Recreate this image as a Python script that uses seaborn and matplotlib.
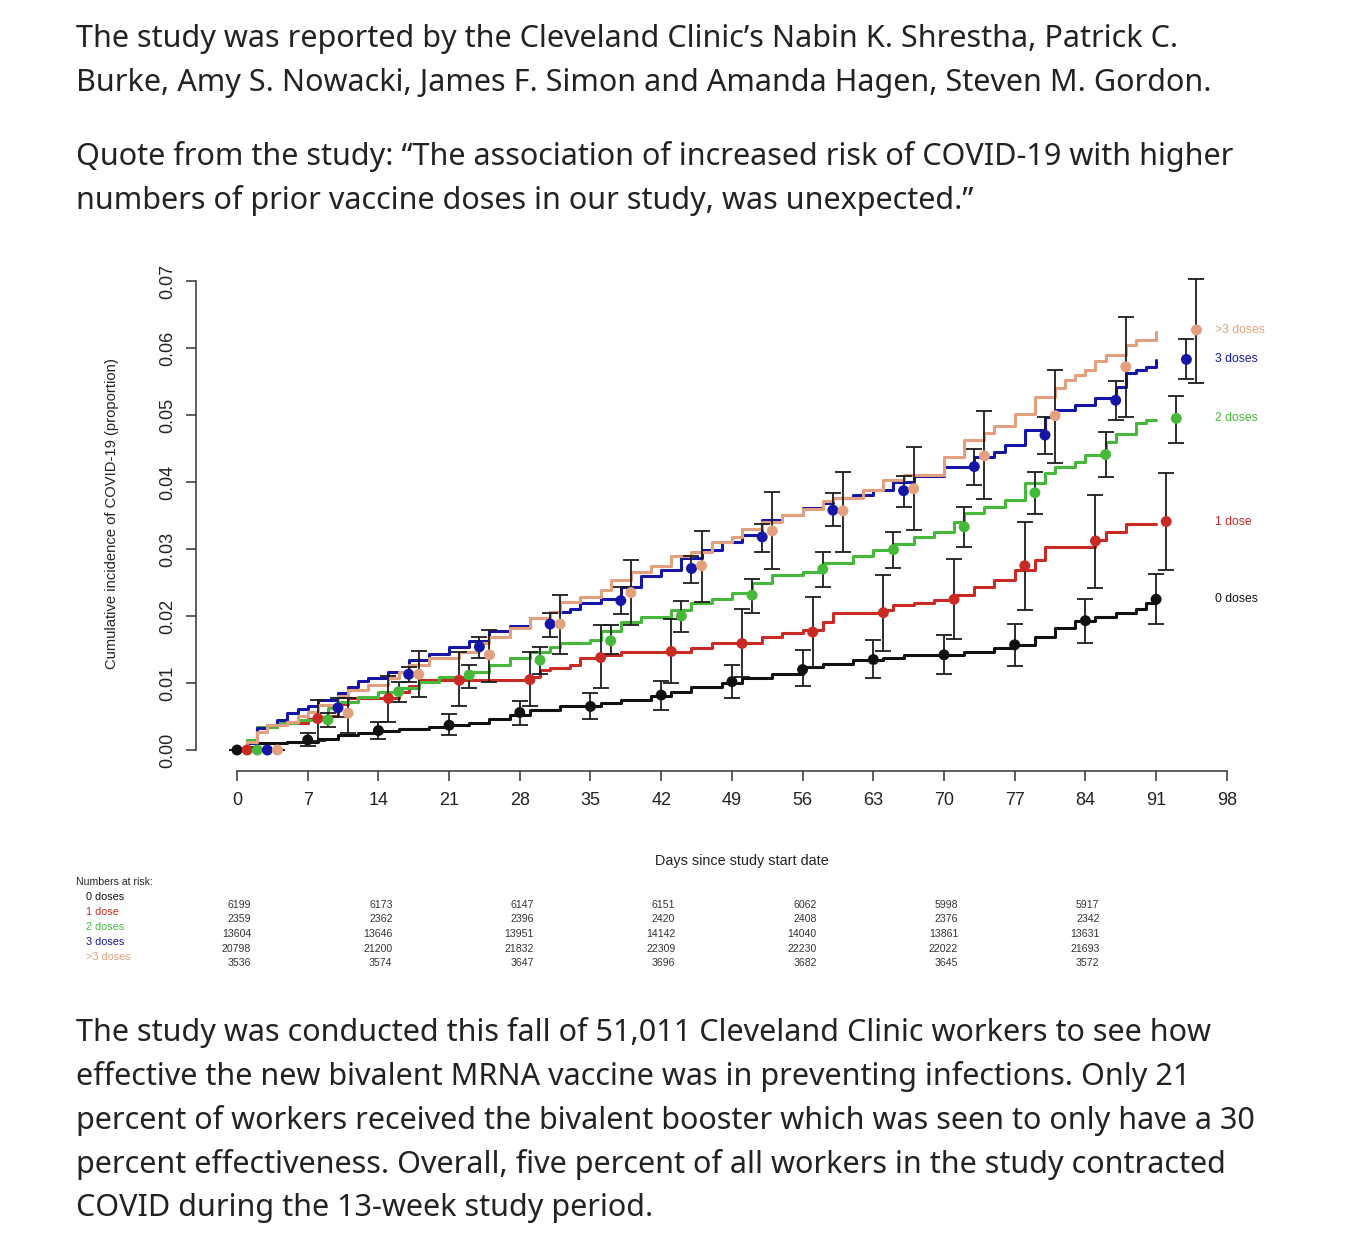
import numpy as np
import pandas as pd
import matplotlib.pyplot as plt
import seaborn as sns
from matplotlib.transforms import blended_transform_factory

# ---- article text around the figure
top_lines = [
    "The study was reported by the Cleveland Clinic\u2019s Nabin K. Shrestha, Patrick C.",
    "Burke, Amy S. Nowacki, James F. Simon and Amanda Hagen, Steven M. Gordon.",
    "Quote from the study: \u201cThe association of increased risk of COVID-19 with higher",
    "numbers of prior vaccine doses in our study, was unexpected.\u201d",
]
bottom_lines = [
    "The study was conducted this fall of 51,011 Cleveland Clinic workers to see how",
    "effective the new bivalent MRNA vaccine was in preventing infections. Only 21",
    "percent of workers received the bivalent booster which was seen to only have a 30",
    "percent effectiveness. Overall, five percent of all workers in the study contracted",
    "COVID during the 13-week study period.",
]

groups = ['0 doses', '1 dose', '2 doses', '3 doses', '>3 doses']
colors = ['#111111', '#c92a24', '#46b83a', '#1616a6', '#e2a07e']

# ---- cumulative incidence step curves (day, value)
days_0 = [0, 1, 2, 5, 8, 10, 12, 14, 16, 19, 21, 23, 25, 27, 29, 32, 36, 38, 41, 43, 45, 48, 50,
          53, 56, 58, 61, 64, 66, 72, 75, 77, 79, 81, 83, 85, 87, 89, 90, 91]
inc_0 = [0, 0.0005, 0.0010, 0.0012, 0.0017, 0.0022, 0.0026, 0.0029, 0.0032, 0.0035, 0.0037,
         0.0041, 0.0047, 0.0052, 0.0060, 0.0065, 0.0070, 0.0075, 0.0080, 0.0087, 0.0094, 0.0100,
         0.0107, 0.0114, 0.0124, 0.0129, 0.0134, 0.0138, 0.0142, 0.0147, 0.0152, 0.0157, 0.0169,
         0.0182, 0.0192, 0.0198, 0.0205, 0.0211, 0.0219, 0.0219]

days_1 = [0, 1, 2, 4, 7, 9, 10, 11, 16, 17, 18, 29, 30, 31, 33, 34, 36, 38, 45, 47, 52, 54, 56,
          58, 59, 64, 65, 67, 69, 71, 73, 75, 77, 79, 80, 85, 86, 88, 91]
inc_1 = [0, 0.0012, 0.0035, 0.0040, 0.0046, 0.0051, 0.0069, 0.0077, 0.0087, 0.0095, 0.0104,
         0.0109, 0.0119, 0.0122, 0.0127, 0.0137, 0.0142, 0.0147, 0.0152, 0.0159, 0.0169, 0.0174,
         0.0179, 0.0191, 0.0204, 0.0209, 0.0216, 0.0219, 0.0224, 0.0231, 0.0244, 0.0254, 0.0269,
         0.0284, 0.0303, 0.0313, 0.0326, 0.0337, 0.0337]

days_2 = [0, 1, 2, 4, 6, 8, 9, 10, 12, 14, 16, 18, 20, 23, 25, 27, 29, 31, 32, 35, 36, 38, 40,
          43, 45, 47, 49, 51, 53, 56, 58, 61, 63, 65, 67, 69, 71, 72, 74, 76, 78, 80, 81, 83, 84,
          86, 87, 89, 90, 91]
inc_2 = [0, 0.0015, 0.0035, 0.0040, 0.0045, 0.0050, 0.0062, 0.0072, 0.0079, 0.0087, 0.0092,
         0.0102, 0.0109, 0.0117, 0.0127, 0.0137, 0.0147, 0.0154, 0.0159, 0.0164, 0.0177, 0.0191,
         0.0199, 0.0209, 0.0219, 0.0226, 0.0234, 0.0249, 0.0261, 0.0266, 0.0279, 0.0289, 0.0299,
         0.0308, 0.0318, 0.0326, 0.0341, 0.0353, 0.0363, 0.0373, 0.0398, 0.0413, 0.0423, 0.0430,
         0.0440, 0.0460, 0.0472, 0.0488, 0.0493, 0.0493]

days_3 = [0, 1, 2, 3, 4, 5, 6, 7, 8, 10, 11, 12, 13, 15, 17, 19, 21, 23, 25, 27, 29, 31, 33, 34,
          36, 38, 40, 42, 44, 46, 48, 50, 52, 54, 56, 58, 59, 61, 63, 65, 67, 70, 73, 75, 76, 78,
          80, 81, 83, 85, 87, 88, 89, 90, 91]
inc_3 = [0, 0.0010, 0.0033, 0.0037, 0.0045, 0.0055, 0.0061, 0.0065, 0.0075, 0.0085, 0.0094,
         0.0103, 0.0107, 0.0117, 0.0134, 0.0144, 0.0154, 0.0162, 0.0177, 0.0185, 0.0197, 0.0206,
         0.0211, 0.0219, 0.0226, 0.0244, 0.0259, 0.0269, 0.0286, 0.0299, 0.0311, 0.0321, 0.0343,
         0.0351, 0.0361, 0.0368, 0.0376, 0.0381, 0.0388, 0.0400, 0.0409, 0.0423, 0.0438, 0.0445,
         0.0455, 0.0478, 0.0497, 0.0507, 0.0515, 0.0525, 0.0542, 0.0562, 0.0567, 0.0572, 0.0582]

days_4 = [0, 1, 2, 3, 5, 6, 7, 8, 10, 11, 13, 15, 16, 17, 19, 22, 24, 25, 27, 29, 31, 32, 34,
          36, 37, 39, 41, 43, 45, 47, 49, 50, 52, 54, 56, 58, 59, 62, 64, 66, 70, 72, 74, 75, 77,
          79, 81, 82, 83, 84, 85, 86, 88, 89, 91]
inc_4 = [0, 0.0012, 0.0027, 0.0037, 0.0042, 0.0051, 0.0057, 0.0067, 0.0080, 0.0090, 0.0097,
         0.0107, 0.0117, 0.0127, 0.0137, 0.0147, 0.0159, 0.0169, 0.0182, 0.0197, 0.0206, 0.0221,
         0.0229, 0.0239, 0.0254, 0.0266, 0.0274, 0.0289, 0.0296, 0.0311, 0.0318, 0.0330, 0.0341,
         0.0351, 0.0360, 0.0371, 0.0376, 0.0388, 0.0403, 0.0410, 0.0438, 0.0463, 0.0473, 0.0483,
         0.0502, 0.0527, 0.0540, 0.0552, 0.0560, 0.0567, 0.0580, 0.0590, 0.0605, 0.0612, 0.0624]

# ---- weekly estimates with confidence intervals
mark_days = [0, 7, 14, 21, 28, 35, 42, 49, 56, 63, 70, 77, 84, 91]
est_0 = [0, 0.0015, 0.0029, 0.0037, 0.0056, 0.0065, 0.0082, 0.0102, 0.0120, 0.0135, 0.0142, 0.0157, 0.0193, 0.0225]
lo_0 = [0, 0.0006, 0.0016, 0.0022, 0.0037, 0.0046, 0.0060, 0.0077, 0.0096, 0.0107, 0.0113, 0.0126, 0.0160, 0.0188]
hi_0 = [0, 0.0025, 0.0042, 0.0053, 0.0073, 0.0085, 0.0103, 0.0127, 0.0149, 0.0164, 0.0172, 0.0188, 0.0225, 0.0263]
est_1 = [0, 0.0047, 0.0077, 0.0104, 0.0105, 0.0138, 0.0147, 0.0159, 0.0176, 0.0205, 0.0225, 0.0275, 0.0312, 0.0341]
lo_1 = [0, 0.0013, 0.0042, 0.0066, 0.0066, 0.0092, 0.0100, 0.0109, 0.0124, 0.0148, 0.0166, 0.0209, 0.0242, 0.0269]
hi_1 = [0, 0.0075, 0.0110, 0.0146, 0.0147, 0.0186, 0.0196, 0.0210, 0.0228, 0.0261, 0.0285, 0.0340, 0.0381, 0.0413]
est_2 = [0, 0.0045, 0.0087, 0.0112, 0.0134, 0.0163, 0.0200, 0.0231, 0.0270, 0.0299, 0.0333, 0.0384, 0.0441, 0.0495]
lo_2 = [0, 0.0034, 0.0071, 0.0093, 0.0114, 0.0144, 0.0176, 0.0205, 0.0243, 0.0271, 0.0303, 0.0352, 0.0407, 0.0458]
hi_2 = [0, 0.0055, 0.0102, 0.0127, 0.0153, 0.0186, 0.0222, 0.0255, 0.0295, 0.0326, 0.0362, 0.0415, 0.0474, 0.0529]
est_3 = [0, 0.0063, 0.0113, 0.0154, 0.0188, 0.0223, 0.0271, 0.0318, 0.0358, 0.0387, 0.0423, 0.0470, 0.0522, 0.0583]
lo_3 = [0, 0.0050, 0.0102, 0.0138, 0.0169, 0.0203, 0.0249, 0.0295, 0.0334, 0.0362, 0.0396, 0.0442, 0.0493, 0.0553]
hi_3 = [0, 0.0077, 0.0124, 0.0169, 0.0205, 0.0244, 0.0289, 0.0338, 0.0383, 0.0409, 0.0449, 0.0497, 0.0551, 0.0613]
est_4 = [0, 0.0055, 0.0113, 0.0142, 0.0188, 0.0235, 0.0275, 0.0327, 0.0357, 0.0390, 0.0439, 0.0499, 0.0572, 0.0627]
lo_4 = [0, 0.0025, 0.0079, 0.0101, 0.0143, 0.0186, 0.0221, 0.0270, 0.0296, 0.0328, 0.0374, 0.0428, 0.0497, 0.0548]
hi_4 = [0, 0.0078, 0.0148, 0.0179, 0.0231, 0.0284, 0.0327, 0.0385, 0.0415, 0.0452, 0.0506, 0.0567, 0.0647, 0.0703]

# ---- numbers at risk
risk_days = [0, 14, 28, 42, 56, 70, 84]
risk_0 = [6199, 6173, 6147, 6151, 6062, 5998, 5917]
risk_1 = [2359, 2362, 2396, 2420, 2408, 2376, 2342]
risk_2 = [13604, 13646, 13951, 14142, 14040, 13861, 13631]
risk_3 = [20798, 21200, 21832, 22309, 22230, 22022, 21693]
risk_4 = [3536, 3574, 3647, 3696, 3682, 3645, 3572]

step_days = [days_0, days_1, days_2, days_3, days_4]
step_inc = [inc_0, inc_1, inc_2, inc_3, inc_4]
ests = [est_0, est_1, est_2, est_3, est_4]
los = [lo_0, lo_1, lo_2, lo_3, lo_4]
his = [hi_0, hi_1, hi_2, hi_3, hi_4]
risks = [risk_0, risk_1, risk_2, risk_3, risk_4]

curves = pd.concat([pd.DataFrame({'day': d, 'inc': v, 'group': g})
                    for d, v, g in zip(step_days, step_inc, groups)], ignore_index=True)
# markers are dodged by one day per group so they do not sit on top of each other
marks = pd.concat([pd.DataFrame({'t': np.array(mark_days) + i, 'est': e, 'lo': l, 'hi': h, 'group': g})
                   for i, (e, l, h, g) in enumerate(zip(ests, los, his, groups))], ignore_index=True)

sns.set_style('ticks')
plt.rcParams['font.family'] = ['Liberation Sans', 'DejaVu Sans']
pal = dict(zip(groups, colors))

W, H = 1348, 1256
fig = plt.figure(figsize=(W / 100, H / 100), dpi=100)
ax = fig.add_axes([0.16083, 0.39753, 0.76424, 0.38674])

sns.lineplot(data=curves, x='day', y='inc', hue='group', palette=pal, estimator=None,
             drawstyle='steps-post', linewidth=2.2, legend=False, ax=ax, zorder=2)
ax.errorbar(marks['t'], marks['est'], yerr=[marks['est'] - marks['lo'], marks['hi'] - marks['est']],
            fmt='none', ecolor='#1c1c1c', elinewidth=1.3, capsize=6, capthick=1.3, zorder=3)
sns.scatterplot(data=marks, x='t', y='est', hue='group', palette=pal, s=62, linewidth=0,
                legend=False, ax=ax, zorder=4)

# R-style detached axes
sns.despine(ax=ax, offset={'left': 15, 'bottom': 10.3})
ax.set_xlim(-2, 100)
ax.set_ylim(-0.001, 0.0715)
ax.spines['left'].set_bounds(0, 0.07)
ax.spines['bottom'].set_bounds(0, 98)
for s in ['left', 'bottom']:
    ax.spines[s].set_linewidth(1.1)
    ax.spines[s].set_color('#333333')

yt = np.arange(0, 0.0701, 0.01)
ax.set_xticks(range(0, 99, 7))
ax.set_yticks(yt)
ax.set_yticklabels([f'{v:.2f}' for v in yt])
ax.tick_params(axis='both', labelsize=13, length=7, width=1.1, color='#333333', labelcolor='#222222')
ax.tick_params(axis='x', pad=8)
ax.tick_params(axis='y', pad=7, labelrotation=90)
for lab in ax.get_yticklabels():
    lab.set_va('center')

ax.set_ylabel('Cumulative incidence of COVID-19 (proportion)', fontsize=10.6, color='#222222')
ax.yaxis.set_label_coords(-0.0949, 0.4996)
ax.set_xlabel('Days since study start date', fontsize=10.4, color='#222222')
ax.xaxis.set_label_coords(0.5095, -0.2003)

# group labels to the right of the curves
for g, c, e in zip(groups, colors, ests):
    ax.text(96.8, e[-1], g, color=c, fontsize=8.7, va='center', ha='left')

# numbers at risk table
tr = blended_transform_factory(ax.transData, fig.transFigure)
fig.text(76 / W, 1 - 882 / H, 'Numbers at risk:', fontsize=7.6, color='#222222', va='center')
for i, (g, c, r) in enumerate(zip(groups, colors, risks)):
    fig.text(86 / W, 1 - (897 + 15 * i) / H, g, fontsize=7.8, color=c, va='center')
    for d, n in zip(risk_days, r):
        ax.text(d + 1.4, 1 - (905 + 14.5 * i) / H, str(n), transform=tr, fontsize=7.6,
                color='#333333', ha='right', va='center')

for i, line in enumerate(top_lines):
    fig.text(76 / W, 1 - [39, 83, 157, 201][i] / H, line, fontsize=22, family='Noto Sans',
             color='#222222', va='center', ha='left')
for i, line in enumerate(bottom_lines):
    fig.text(76 / W, 1 - (1032 + 44 * i) / H, line, fontsize=22, family='Noto Sans',
             color='#222222', va='center', ha='left')

fig.savefig('out.png', dpi=100)
